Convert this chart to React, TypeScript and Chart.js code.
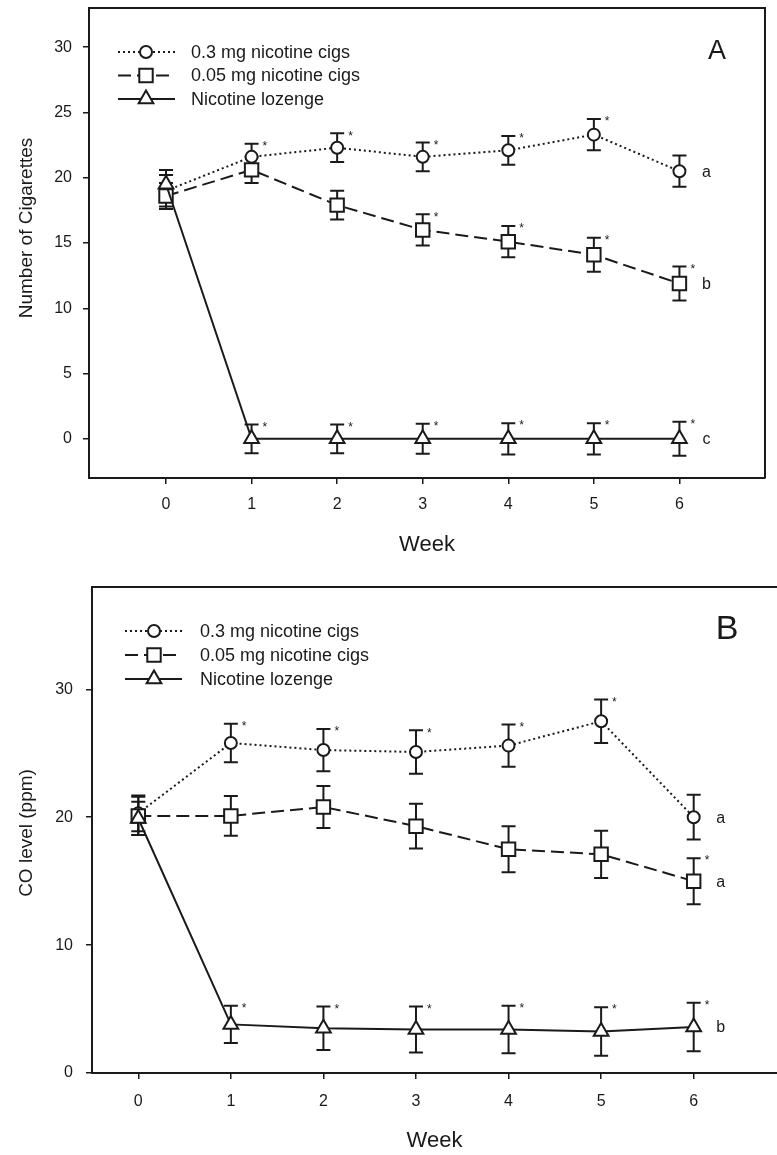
import React, { useEffect, useRef } from "react";
import { Chart, registerables } from "chart.js";

Chart.register(...registerables);

const FONT = "'Liberation Sans', Arial, Helvetica, sans-serif";
const INK = "#1a1a1a";

// ---------- shared ----------
const weeks = [0, 1, 2, 3, 4, 5, 6];
const weekTicks = [0, 1, 2, 3, 4, 5, 6];
const seriesLabels = ["0.3 mg nicotine cigs", "0.05 mg nicotine cigs", "Nicotine lozenge"];

// ---------- Panel A: Number of cigarettes ----------
const cigTicks = [0, 5, 10, 15, 20, 25, 30];
const cigHigh = [19.0, 21.6, 22.3, 21.6, 22.1, 23.3, 20.5];
const cigHighErr = [1.2, 1.0, 1.1, 1.1, 1.1, 1.2, 1.2];
const cigLow = [18.6, 20.6, 17.9, 16.0, 15.1, 14.1, 11.9];
const cigLowErr = [1.0, 1.0, 1.1, 1.2, 1.2, 1.3, 1.3];
const cigLoz = [19.5, 0, 0, 0, 0, 0, 0];
const cigLozErr = [1.1, 1.1, 1.1, 1.15, 1.2, 1.2, 1.3];
const cigHighStars = [0, 1, 1, 1, 1, 1, 0];
const cigLowStars = [0, 0, 0, 1, 1, 1, 1];
const cigLozStars = [0, 1, 1, 1, 1, 1, 1];
const cigLetters = ["a", "b", "c"];

// ---------- Panel B: CO level ----------
const coTicks = [0, 10, 20, 30];
const coHigh = [20.3, 25.8, 25.25, 25.1, 25.6, 27.5, 20.0];
const coHighErr = [1.4, 1.5, 1.65, 1.7, 1.65, 1.7, 1.75];
const coLow = [20.1, 20.1, 20.8, 19.3, 17.5, 17.1, 15.0];
const coLowErr = [1.5, 1.55, 1.65, 1.75, 1.8, 1.85, 1.8];
const coLoz = [19.9, 3.8, 3.5, 3.4, 3.4, 3.25, 3.6];
const coLozErr = [1.3, 1.45, 1.7, 1.8, 1.85, 1.9, 1.9];
const coHighStars = [0, 1, 1, 1, 1, 1, 0];
const coLowStars = [0, 0, 0, 0, 0, 0, 1];
const coLozStars = [0, 1, 1, 1, 1, 1, 1];
const coLetters = ["a", "a", "b"];

const STYLES = [
  { point: "circle", radius: 6, dash: [2, 3], order: 2 },
  { point: "rect", radius: 9.5, dash: [13, 6], order: 1 },
  { point: "triangle", radius: 8.5, dash: [] as number[], order: 0 },
];

function buildDatasets(values: number[][], errors: number[][], stars: number[][], letters: string[]) {
  return values.map((vals, k) => ({
    label: seriesLabels[k],
    data: weeks.map((w, i) => ({ x: w, y: vals[i] })),
    errors: errors[k],
    stars: stars[k],
    letter: letters[k],
    order: STYLES[k].order,
    borderColor: INK,
    borderWidth: 2,
    borderDash: STYLES[k].dash,
    pointStyle: STYLES[k].point,
    pointRadius: STYLES[k].radius,
    pointHoverRadius: STYLES[k].radius,
    pointBorderWidth: 2,
    pointBackgroundColor: "#ffffff",
    pointBorderColor: INK,
    fill: false,
    tension: 0,
    clip: false,
  }));
}

function drawMarker(ctx: CanvasRenderingContext2D, style: string, x: number, y: number, r: number) {
  ctx.beginPath();
  if (style === "circle") {
    ctx.arc(x, y, r, 0, Math.PI * 2);
  } else if (style === "rect") {
    const s = r * Math.SQRT1_2;
    ctx.rect(x - s, y - s, 2 * s, 2 * s);
  } else {
    ctx.moveTo(x, y - r);
    ctx.lineTo(x + 0.866 * r, y + 0.5 * r);
    ctx.lineTo(x - 0.866 * r, y + 0.5 * r);
    ctx.closePath();
  }
  ctx.fillStyle = "#fff";
  ctx.fill();
  ctx.lineWidth = 2;
  ctx.setLineDash([]);
  ctx.strokeStyle = INK;
  ctx.stroke();
}

const decorPlugin = {
  id: "panelDecor",
  beforeDatasetsDraw(chart: any) {
    const ctx = chart.ctx as CanvasRenderingContext2D;
    const xs = chart.scales.x;
    const ys = chart.scales.y;
    ctx.save();
    ctx.strokeStyle = INK;
    ctx.lineWidth = 2;
    ctx.setLineDash([]);
    chart.data.datasets.forEach((ds: any) => {
      ds.data.forEach((p: any, i: number) => {
        const e = ds.errors[i];
        const px = xs.getPixelForValue(p.x);
        const top = ys.getPixelForValue(p.y + e);
        const bot = ys.getPixelForValue(p.y - e);
        ctx.beginPath();
        ctx.moveTo(px, top);
        ctx.lineTo(px, bot);
        ctx.moveTo(px - 7, top);
        ctx.lineTo(px + 7, top);
        ctx.moveTo(px - 7, bot);
        ctx.lineTo(px + 7, bot);
        ctx.stroke();
      });
    });
    ctx.restore();
  },
  afterDatasetsDraw(chart: any) {
    const ctx = chart.ctx as CanvasRenderingContext2D;
    const xs = chart.scales.x;
    const ys = chart.scales.y;
    ctx.save();
    ctx.fillStyle = INK;
    chart.data.datasets.forEach((ds: any) => {
      ds.data.forEach((p: any, i: number) => {
        const px = xs.getPixelForValue(p.x);
        if (ds.stars[i]) {
          const ty = ys.getPixelForValue(p.y + ds.errors[i]);
          ctx.font = `12px ${FONT}`;
          ctx.textAlign = "left";
          ctx.textBaseline = "top";
          ctx.fillText("*", px + 11, ty - 3);
        }
      });
      const last = ds.data[ds.data.length - 1];
      ctx.font = `16px ${FONT}`;
      ctx.textAlign = "center";
      ctx.textBaseline = "middle";
      ctx.fillText(ds.letter, xs.getPixelForValue(last.x) + 27, ys.getPixelForValue(last.y) + 1);
    });
    ctx.restore();
  },
  afterDraw(chart: any, _args: any, opts: any) {
    const ctx = chart.ctx as CanvasRenderingContext2D;
    const area = chart.chartArea;
    ctx.save();
    // frame (top / right)
    ctx.strokeStyle = INK;
    ctx.lineWidth = 2;
    ctx.setLineDash([]);
    ctx.beginPath();
    ctx.moveTo(area.left, area.top);
    ctx.lineTo(area.right, area.top);
    if (opts.frameRight) ctx.lineTo(area.right, area.bottom);
    ctx.stroke();

    // legend
    const lg = opts.legend;
    chart.data.datasets.forEach((ds: any, k: number) => {
      const y = lg.y0 + k * lg.dy;
      ctx.beginPath();
      ctx.lineWidth = 2;
      ctx.strokeStyle = INK;
      ctx.setLineDash(ds.borderDash || []);
      ctx.moveTo(lg.x0, y);
      ctx.lineTo(lg.x1, y);
      ctx.stroke();
      drawMarker(ctx, ds.pointStyle, lg.mx, y, ds.pointRadius);
      ctx.fillStyle = INK;
      ctx.font = `18px ${FONT}`;
      ctx.textAlign = "left";
      ctx.textBaseline = "middle";
      ctx.fillText(ds.label, lg.tx, y + 1);
    });

    // panel letter
    ctx.fillStyle = INK;
    ctx.font = `${opts.panel.size}px ${FONT}`;
    ctx.textAlign = "center";
    ctx.textBaseline = "middle";
    ctx.fillText(opts.panel.text, opts.panel.x, opts.panel.y);

    // y title
    ctx.translate(opts.yTitle.x, opts.yTitle.y);
    ctx.rotate(-Math.PI / 2);
    ctx.font = `19px ${FONT}`;
    ctx.textAlign = "center";
    ctx.textBaseline = "middle";
    ctx.fillText(opts.yTitle.text, 0, 0);
    ctx.restore();
  },
};

function makeConfig(p: any) {
  return {
    type: "line",
    data: { datasets: p.datasets },
    plugins: [decorPlugin],
    options: {
      animation: false,
      responsive: false,
      devicePixelRatio: 1,
      events: [],
      layout: { padding: p.padding, autoPadding: false },
      plugins: {
        legend: { display: false },
        tooltip: { enabled: false },
        panelDecor: p.decor,
      },
      scales: {
        x: {
          type: "linear",
          min: p.xMin,
          max: p.xMax,
          afterFit: (s: any) => {
            s.height = p.xAxisHeight;
            s.paddingLeft = 0;
            s.paddingRight = 0;
            s.paddingTop = 0;
            s.paddingBottom = 0;
          },
          afterBuildTicks: (s: any) => {
            s.ticks = weekTicks.map((v) => ({ value: v }));
          },
          grid: { display: true, drawOnChartArea: false, drawTicks: true, tickLength: 6, color: INK, lineWidth: 1.5 },
          border: { display: true, color: INK, width: 2 },
          ticks: { font: { family: FONT, size: 16 }, color: INK, padding: p.xTickPad, maxRotation: 0, autoSkip: false },
          title: {
            display: true,
            text: "Week",
            color: INK,
            font: { family: FONT, size: 22 },
            padding: { top: 0, bottom: p.xTitlePad },
          },
        },
        y: {
          type: "linear",
          min: p.yMin,
          max: p.yMax,
          afterFit: (s: any) => {
            s.width = p.yAxisWidth;
            s.paddingLeft = 0;
            s.paddingRight = 0;
            s.paddingTop = 0;
            s.paddingBottom = 0;
          },
          afterBuildTicks: (s: any) => {
            s.ticks = p.yTicks.map((v: number) => ({ value: v }));
          },
          grid: { display: true, drawOnChartArea: false, drawTicks: true, tickLength: 6, color: INK, lineWidth: 1.5 },
          border: { display: true, color: INK, width: 2 },
          ticks: { font: { family: FONT, size: 16 }, color: INK, padding: p.yTickPad, autoSkip: false },
        },
      },
    },
  } as any;
}

export default function App() {
  const refA = useRef<HTMLCanvasElement | null>(null);
  const refB = useRef<HTMLCanvasElement | null>(null);

  useEffect(() => {
    const chartA = new Chart(
      refA.current as HTMLCanvasElement,
      makeConfig({
        datasets: buildDatasets(
          [cigHigh, cigLow, cigLoz],
          [cigHighErr, cigLowErr, cigLozErr],
          [cigHighStars, cigLowStars, cigLozStars],
          cigLetters
        ),
        padding: { left: 0, top: 8, right: 12, bottom: 0 },
        xMin: -0.9,
        xMax: 7,
        yMin: -3,
        yMax: 33,
        yTicks: cigTicks,
        xAxisHeight: 82,
        yAxisWidth: 89,
        xTickPad: 11,
        yTickPad: 11,
        xTitlePad: 2,
        decor: {
          frameRight: true,
          legend: { y0: 52, dy: 23.5, x0: 118, x1: 175, mx: 146, tx: 191 },
          panel: { text: "A", x: 717, y: 52, size: 27 },
          yTitle: { text: "Number of Cigarettes", x: 27, y: 228 },
        },
      })
    );
    const chartB = new Chart(
      refB.current as HTMLCanvasElement,
      makeConfig({
        datasets: buildDatasets(
          [coHigh, coLow, coLoz],
          [coHighErr, coLowErr, coLozErr],
          [coHighStars, coLowStars, coLozStars],
          coLetters
        ),
        padding: { left: 0, top: 27, right: 0, bottom: 0 },
        xMin: -0.5,
        xMax: 6.9,
        yMin: 0,
        yMax: 38,
        yTicks: coTicks,
        xAxisHeight: 82,
        yAxisWidth: 92,
        xTickPad: 13,
        yTickPad: 13,
        xTitlePad: 1,
        decor: {
          frameRight: false,
          legend: { y0: 71, dy: 24, x0: 125, x1: 182, mx: 154, tx: 200 },
          panel: { text: "B", x: 727, y: 70, size: 34 },
          yTitle: { text: "CO level (ppm)", x: 27, y: 273 },
        },
      })
    );
    return () => {
      chartA.destroy();
      chartB.destroy();
    };
  }, []);

  return (
    <div style={{ position: "absolute", left: 0, top: 0, width: 777, height: 1155, background: "#fff" }}>
      <canvas ref={refA} width={777} height={560} style={{ position: "absolute", left: 0, top: 0, display: "block" }} />
      <canvas ref={refB} width={777} height={595} style={{ position: "absolute", left: 0, top: 560, display: "block" }} />
    </div>
  );
}
